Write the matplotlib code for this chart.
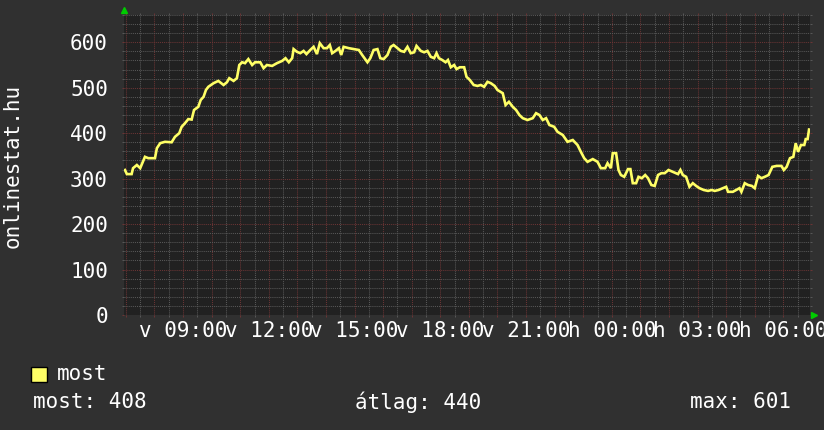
import matplotlib
matplotlib.use('Agg')
import matplotlib.pyplot as plt
from matplotlib.patches import Rectangle
from matplotlib.ticker import FixedLocator, MultipleLocator

plt.rcParams['font.family'] = ['DejaVu Sans Mono', 'DejaVu Sans']

# ---- data (minutes since midnight of first day, value) ----
minutes = [
    418, 422, 432, 435, 443, 450, 460, 467, 481, 485,
    492, 502, 516, 523, 532, 537, 544, 551, 558, 563,
    572, 577, 583, 588, 593, 604, 614, 625, 632, 637,
    646, 653, 658, 664, 670, 677, 685, 691, 702, 709,
    716, 727, 737, 748, 755, 762, 769, 772, 779, 786,
    793, 799, 807, 814, 821, 827, 835, 842, 848, 853,
    860, 867, 872, 877, 888, 898, 909, 916, 927, 933,
    940, 948, 954, 961, 969, 976, 982, 990, 997, 1004,
    1011, 1018, 1025, 1030, 1039, 1046, 1053, 1060, 1067, 1072,
    1077, 1084, 1091, 1096, 1102, 1109, 1114, 1121, 1130, 1135,
    1142, 1150, 1158, 1165, 1172, 1179, 1186, 1194, 1200, 1211,
    1217, 1224, 1232, 1239, 1246, 1253, 1263, 1274, 1281, 1288,
    1295, 1302, 1309, 1319, 1326, 1337, 1347, 1358, 1368, 1375,
    1382, 1389, 1400, 1410, 1417, 1426, 1431, 1438, 1442, 1449,
    1454, 1459, 1466, 1474, 1479, 1484, 1491, 1496, 1503, 1510,
    1516, 1523, 1530, 1537, 1544, 1551, 1559, 1568, 1579, 1584,
    1589, 1596, 1603, 1610, 1617, 1624, 1633, 1642, 1650, 1656,
    1664, 1673, 1680, 1684, 1694, 1701, 1708, 1712, 1719, 1726,
    1734, 1740, 1747, 1754, 1761, 1769, 1777, 1786, 1796, 1801,
    1807, 1814, 1821, 1826, 1831, 1837, 1844, 1847, 1851, 1854,
]
values = [
    319, 310, 310, 323, 330, 323, 348, 345, 345, 367,
    378, 381, 380, 392, 400, 414, 422, 431, 430, 451,
    458, 473, 480, 495, 502, 510, 515, 506, 512, 521,
    515, 521, 550, 556, 554, 563, 550, 556, 556, 543,
    550, 548, 554, 559, 565, 556, 565, 585, 579, 576,
    581, 574, 583, 590, 574, 598, 587, 587, 594, 576,
    581, 587, 572, 590, 587, 585, 583, 572, 556, 565,
    583, 585, 565, 563, 572, 590, 594, 587, 581, 579,
    590, 576, 578, 592, 581, 578, 581, 568, 565, 576,
    565, 561, 556, 561, 545, 550, 541, 545, 545, 524,
    517, 506, 504, 506, 502, 513, 510, 504, 495, 488,
    462, 469, 458, 451, 440, 433, 429, 433, 444, 440,
    429, 433, 418, 414, 403, 396, 381, 385, 374, 359,
    345, 337, 343, 337, 323, 323, 334, 323, 356, 356,
    319, 308, 304, 321, 321, 290, 290, 304, 301, 308,
    301, 286, 284, 308, 312, 312, 319, 315, 310, 319,
    308, 304, 282, 290, 284, 279, 275, 273, 275, 273,
    275, 279, 282, 271, 271, 275, 279, 271, 290, 286,
    284, 279, 306, 301, 304, 308, 326, 328, 328, 319,
    326, 345, 348, 378, 359, 374, 374, 387, 387, 408,
]

label_minutes = [540, 720, 900, 1080, 1260, 1440, 1620, 1800]
label_texts = ['v 09:00', 'v 12:00', 'v 15:00', 'v 18:00',
               'v 21:00', 'h 00:00', 'h 03:00', 'h 06:00']
y_ticks = [0, 100, 200, 300, 400, 500, 600]

series_name = 'most'
stat_texts = ['most: 408', 'átlag: 440', 'max: 601']
y_title = 'onlinestat.hu'

x_start, x_end = 416, 1856
y_max = 660

# ---- style ----
BG = '#303030'
PLOT_BG = '#212121'
MAJOR = '#6a3434'
MINOR = '#575757'
LINE = '#ffff66'
TXT = '#ffffff'
FS = 15

W, H = 824, 430
fig = plt.figure(figsize=(W / 100, H / 100), dpi=100)
fig.patch.set_facecolor(BG)
ax = fig.add_axes([124 / W, (H - 315) / H, 686 / W, 300 / H])
ax.set_facecolor(PLOT_BG)
ax.set_xlim(x_start, x_end)
ax.set_ylim(0, y_max)

ax.plot(minutes, values, color=LINE, lw=1.9, zorder=3, solid_joinstyle='miter')

# grid
hours = list(range(420, x_end + 1, 60))
ax.xaxis.set_major_locator(FixedLocator(hours))
ax.xaxis.set_minor_locator(FixedLocator(list(range(450, x_end + 1, 60))))
ax.set_xticklabels([label_texts[label_minutes.index(h)] if h in label_minutes else ''
                    for h in hours])
ax.yaxis.set_major_locator(FixedLocator(y_ticks))
ax.yaxis.set_minor_locator(MultipleLocator(20))
ax.set_yticklabels([str(v) for v in y_ticks])

dash = (0, (1.0, 1.0))
ax.grid(which='minor', color=MINOR, linestyle=dash, linewidth=0.75)
ax.grid(which='major', color=MAJOR, linestyle=dash, linewidth=0.75)
ax.set_axisbelow(True)

for s in ax.spines.values():
    s.set_visible(False)

ax.tick_params(which='both', direction='out', length=1.6, width=0.75,
               top=True, right=True, labelsize=FS, labelcolor=TXT)
ax.tick_params(which='major', color=MAJOR)
ax.tick_params(which='minor', color=MINOR)
ax.tick_params(axis='x', pad=3)
ax.tick_params(axis='y', pad=10)

# arrows
ax.plot([0], [1.018], marker='^', color='#00cc00', markersize=4.5,
        transform=ax.transAxes, clip_on=False)
ax.plot([1.006], [0], marker='>', color='#00cc00', markersize=4.5,
        transform=ax.transAxes, clip_on=False)

# y title
fig.text(13 / W, 1 - 166 / H, y_title, rotation=90, ha='center', va='center',
         color=TXT, fontsize=FS)

# legend
fig.patches.append(Rectangle((31 / W, 1 - 382 / H), 16 / W, 15 / H,
                             transform=fig.transFigure, facecolor=LINE,
                             edgecolor='black', linewidth=1))
fig.text(57 / W, 1 - 374 / H, series_name, ha='left', va='center', color=TXT, fontsize=FS)
fig.text(33 / W, 1 - 402 / H, stat_texts[0], ha='left', va='center', color=TXT, fontsize=FS)
fig.text(355 / W, 1 - 402 / H, stat_texts[1], ha='left', va='center', color=TXT, fontsize=FS)
fig.text(791 / W, 1 - 402 / H, stat_texts[2], ha='right', va='center', color=TXT, fontsize=FS)

fig.savefig('out.png', dpi=100, facecolor=BG)
